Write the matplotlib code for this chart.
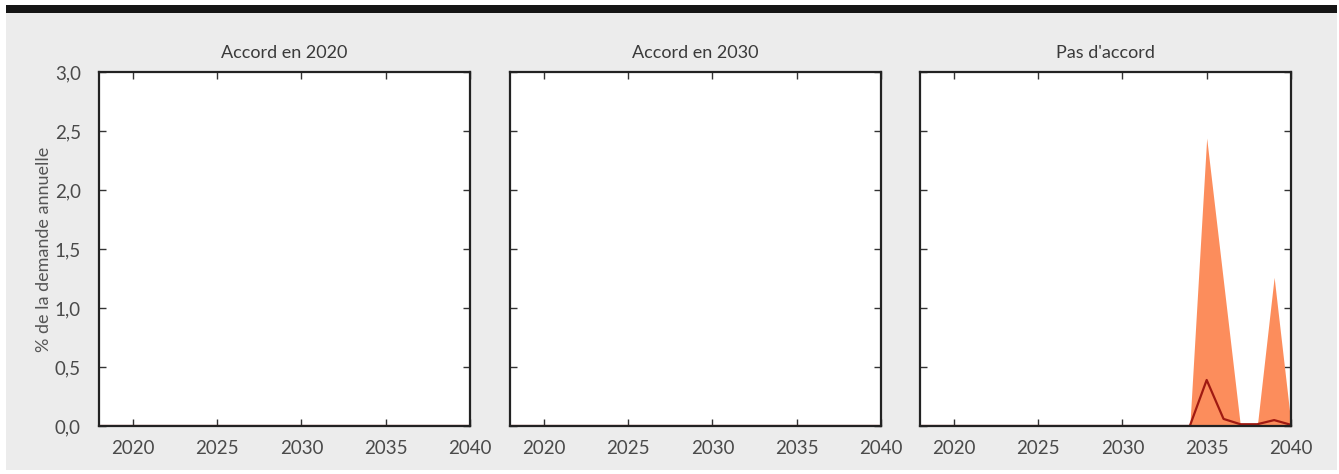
import matplotlib
matplotlib.use('Agg')
import matplotlib.pyplot as plt
from matplotlib.patches import Rectangle
from matplotlib.ticker import FuncFormatter

plt.rcParams['font.family'] = ['Lato', 'DejaVu Sans']

# years on the x axis
years = [2018, 2019, 2020, 2021, 2022, 2023, 2024, 2025, 2026, 2027, 2028,
         2029, 2030, 2031, 2032, 2033, 2034, 2035, 2036, 2037, 2038, 2039, 2040]

titles = ['Accord en 2020', 'Accord en 2030', "Pas d'accord"]

# median share of annual demand, per scenario
median_2020 = [0, 0, 0, 0, 0, 0, 0, 0, 0, 0, 0, 0, 0, 0, 0, 0, 0, 0, 0, 0, 0, 0, 0]
median_2030 = [0, 0, 0, 0, 0, 0, 0, 0, 0, 0, 0, 0, 0, 0, 0, 0, 0, 0, 0, 0, 0, 0, 0]
median_none = [0, 0, 0, 0, 0, 0, 0, 0, 0, 0, 0, 0, 0, 0, 0, 0, 0,
               0.39, 0.06, 0.015, 0.015, 0.05, 0.01]

# upper bound of the range
upper_2020 = [0, 0, 0, 0, 0, 0, 0, 0, 0, 0, 0, 0, 0, 0, 0, 0, 0, 0, 0, 0, 0, 0, 0]
upper_2030 = [0, 0, 0, 0, 0, 0, 0, 0, 0, 0, 0, 0, 0, 0, 0, 0, 0, 0, 0, 0, 0, 0, 0]
upper_none = [0, 0, 0, 0, 0, 0, 0, 0, 0, 0, 0, 0, 0, 0, 0, 0, 0,
              2.44, 1.22, 0, 0, 1.26, 0.02]

medians = [median_2020, median_2030, median_none]
uppers = [upper_2020, upper_2030, upper_none]

x_ticks = [2020, 2025, 2030, 2035, 2040]
y_ticks = [0.0, 0.5, 1.0, 1.5, 2.0, 2.5, 3.0]

W, H = 1339, 474
fig = plt.figure(figsize=(W / 100, H / 100), dpi=100)
fig.patch.set_facecolor('white')

# grey panel and black band on top, kept behind the axes
fig.add_artist(Rectangle((6 / W, 1 - 470 / H), 1331 / W, 457 / H,
                         transform=fig.transFigure, facecolor='#ececec',
                         edgecolor='none', zorder=-10))
fig.add_artist(Rectangle((6 / W, 1 - 13 / H), 1331 / W, 8 / H,
                         transform=fig.transFigure, facecolor='#151515',
                         edgecolor='none', zorder=-10))

lefts = [99, 510, 920]
fmt = FuncFormatter(lambda v, p: ('%.1f' % v).replace('.', ','))

for i in range(3):
    ax = fig.add_axes([lefts[i] / W, 1 - 426 / H, 371 / W, 354 / H])
    ax.set_facecolor('white')
    ax.fill_between(years, 0, uppers[i], color='#fc8d5c', lw=0, zorder=2)
    ax.plot(years, medians[i], color='#a01a12', lw=1.6, zorder=3)
    ax.set_xlim(2018, 2040)
    ax.set_ylim(0, 3.0)
    ax.set_xticks(x_ticks)
    ax.set_yticks(y_ticks)
    ax.yaxis.set_major_formatter(fmt)
    ax.tick_params(direction='in', length=5, width=1, color='#333333',
                   top=True, right=True, labelsize=13.5, labelcolor='#4a4a4a')
    ax.tick_params(axis='y', pad=13)
    ax.tick_params(axis='x', pad=10)
    for s in ax.spines.values():
        s.set_color('#222222')
        s.set_linewidth(1.6)
        s.set_zorder(4)
    ax.set_title(titles[i], fontsize=13, color='#3a3a3a', pad=10)
    if i == 0:
        ax.set_ylabel('% de la demande annuelle', fontsize=13,
                      color='#555555', labelpad=2)
    else:
        ax.tick_params(labelleft=False)

fig.savefig('out.png', dpi=100)
